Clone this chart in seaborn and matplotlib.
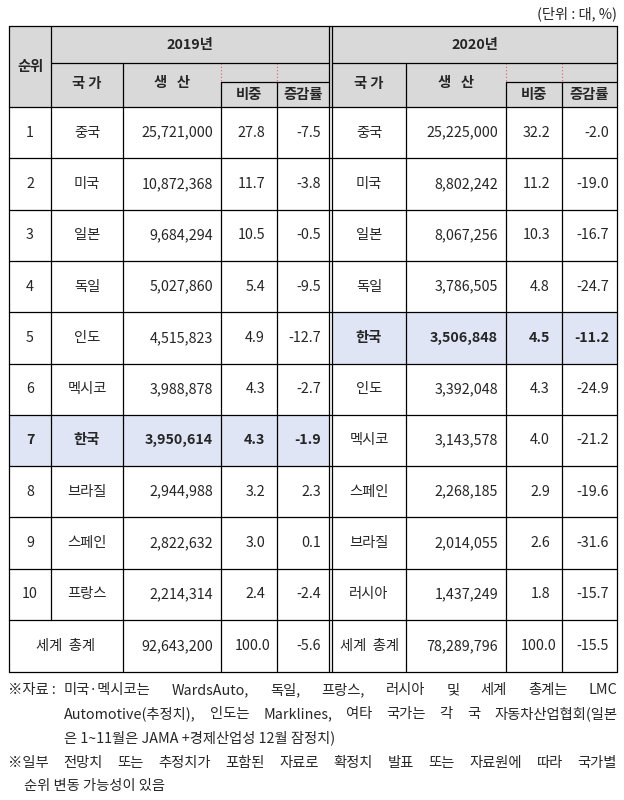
import matplotlib
matplotlib.use("Agg")
import matplotlib.pyplot as plt
import seaborn as sns
from matplotlib.patches import Rectangle

sns.set_theme(style="white")
plt.rcParams["font.family"] = "Noto Sans CJK KR"

ranks = ["1","2","3","4","5","6","7","8","9","10"]
countries_2019 = ["중국","미국","일본","독일","인도","멕시코","한국","브라질","스페인","프랑스"]
prod_2019 = [25721000,10872368,9684294,5027860,4515823,3988878,3950614,2944988,2822632,2214314]
share_2019 = [27.8,11.7,10.5,5.4,4.9,4.3,4.3,3.2,3.0,2.4]
chg_2019 = [-7.5,-3.8,-0.5,-9.5,-12.7,-2.7,-1.9,2.3,0.1,-2.4]
countries_2020 = ["중국","미국","일본","독일","한국","인도","멕시코","스페인","브라질","러시아"]
prod_2020 = [25225000,8802242,8067256,3786505,3506848,3392048,3143578,2268185,2014055,1437249]
share_2020 = [32.2,11.2,10.3,4.8,4.5,4.3,4.0,2.9,2.6,1.8]
chg_2020 = [-2.0,-19.0,-16.7,-24.7,-11.2,-24.9,-21.2,-19.6,-31.6,-15.7]
total_2019 = [92643200, 100.0, -5.6]
total_2020 = [78289796, 100.0, -15.5]

fig = plt.figure(figsize=(6.24, 8.0), dpi=100)
ax = fig.add_axes([0, 0, 1, 1])
ax.set_xlim(0, 624); ax.set_ylim(800, 0); ax.axis("off")

X = [9, 51, 123, 221, 277, 329, 332, 406, 506, 562, 617]
Y0, YH, YS, YD = 26, 63, 82, 107
RH = 51.3
YT = YD + 10 * RH
YB = 672
FS = 10.3
GRAY = "#d9d9d9"; BLUE = "#dfe5f5"
lw = 0.9

def fill(x0, y0, x1, y1, c):
    ax.add_patch(Rectangle((x0, y0), x1 - x0, y1 - y0, facecolor=c, edgecolor="none", zorder=0))

def hl(x0, x1, y, w=lw):
    ax.plot([x0, x1], [y, y], color="black", lw=w, zorder=3)

def vl(x, y0, y1, w=lw, **kw):
    ax.plot([x, x], [y0, y1], color=kw.pop("color", "black"), lw=w, zorder=3, **kw)

def txt(x, y, s, bold=False, ha="center", fs=FS):
    ax.text(x, y, s, ha=ha, va="center", fontsize=fs, fontweight="bold" if bold else "normal", zorder=4)

fill(X[0], Y0, X[-1], YD, GRAY)
fill(X[0], YD + 6 * RH, X[5], YD + 7 * RH, BLUE)
fill(X[6], YD + 4 * RH, X[-1], YD + 5 * RH, BLUE)

txt((X[0] + X[1]) / 2, (Y0 + YD) / 2, "순위", bold=True)
txt((X[1] + X[5]) / 2, (Y0 + YH) / 2 + 1, "2019년", bold=True)
txt((X[6] + X[-1]) / 2, (Y0 + YH) / 2 + 1, "2020년", bold=True)
for base in (0, 5):
    xs = X[1:6] if base == 0 else X[6:11]
    txt((xs[0] + xs[1]) / 2, 84, "국 가", bold=True)
    txt((xs[1] + xs[2]) / 2, 83, "생   산", bold=True)
    txt((xs[2] + xs[3]) / 2, 95, "비중", bold=True)
    txt((xs[3] + xs[4]) / 2, 95, "증감률", bold=True)
    hl(xs[2], xs[4], YS)
    vl(xs[2], YH, YS, w=0.8, color="#e06060", linestyle=(0, (1, 2)))
    vl(xs[3], YH, YS, w=0.8, color="#e06060", linestyle=(0, (1, 2)))
    vl(xs[2], YS, YB); vl(xs[3], YS, YB); vl(xs[1], YH, YB)

for r in range(10):
    yc = YD + (r + 0.5) * RH
    b19 = countries_2019[r] == "한국"
    b20 = countries_2020[r] == "한국"
    txt((X[0] + X[1]) / 2, yc, ranks[r], bold=b19)
    txt((X[1] + X[2]) / 2, yc, countries_2019[r], bold=b19)
    txt(X[3] - 8, yc, f"{prod_2019[r]:,}", bold=b19, ha="right")
    txt(X[4] - 12, yc, f"{share_2019[r]:.1f}", bold=b19, ha="right")
    txt(X[5] - 8, yc, f"{chg_2019[r]:.1f}", bold=b19, ha="right")
    txt((X[6] + X[7]) / 2, yc, countries_2020[r], bold=b20)
    txt(X[8] - 8, yc, f"{prod_2020[r]:,}", bold=b20, ha="right")
    txt(X[9] - 12, yc, f"{share_2020[r]:.1f}", bold=b20, ha="right")
    txt(X[10] - 8, yc, f"{chg_2020[r]:.1f}", bold=b20, ha="right")
    hl(X[0], X[-1], YD + (r + 1) * RH)

yc = (YT + YB) / 2
txt((X[0] + X[2]) / 2, yc, "세계  총계")
txt(X[3] - 8, yc, f"{total_2019[0]:,}", ha="right")
txt(X[4] - 6, yc, f"{total_2019[1]:.1f}", ha="right")
txt(X[5] - 8, yc, f"{total_2019[2]:.1f}", ha="right")
txt((X[6] + X[7]) / 2, yc, "세계  총계")
txt(X[8] - 8, yc, f"{total_2020[0]:,}", ha="right")
txt(X[9] - 6, yc, f"{total_2020[1]:.1f}", ha="right")
txt(X[10] - 8, yc, f"{total_2020[2]:.1f}", ha="right")

hl(X[0], X[-1], Y0); hl(X[0], X[-1], YB)
hl(X[1], X[5], YH); hl(X[6], X[-1], YH)
hl(X[0], X[-1], YD)
vl(X[0], Y0, YB); vl(X[-1], Y0, YB)
vl(X[1], Y0, YT); vl(X[5], Y0, YB); vl(X[6], Y0, YB)

txt(617, 14, "(단위 : 대, %)", ha="right")

fig.canvas.draw()
rend = fig.canvas.get_renderer()

def width(s):
    t = ax.text(0, 0, s, fontsize=FS)
    bb = t.get_window_extent(rend)
    t.remove()
    return bb.width

def justify(x0, x1, y, s):
    words = s.split(" ")
    ws = [width(w) for w in words]
    gap = (x1 - x0 - sum(ws)) / (len(words) - 1)
    x = x0
    for w, wd in zip(words, ws):
        ax.text(x, y, w, ha="left", va="center", fontsize=FS)
        x += wd + gap

ax.text(8, 690, "※자료 :", ha="left", va="center", fontsize=FS)
justify(64, 617, 690, "미국·멕시코는 WardsAuto, 독일, 프랑스, 러시아 및 세계 총계는 LMC")
justify(64, 617, 714, "Automotive(추정치), 인도는 Marklines, 여타 국가는 각 국 자동차산업협회(일본")
ax.text(64, 738, "은 1~11월은 JAMA +경제산업성 12월 잠정치)", ha="left", va="center", fontsize=FS)
justify(8, 617, 763, "※일부 전망치 또는 추정치가 포함된 자료로 확정치 발표 또는 자료원에 따라 국가별")
ax.text(24, 786, "순위 변동 가능성이 있음", ha="left", va="center", fontsize=FS)

fig.savefig("out.png", dpi=100)
